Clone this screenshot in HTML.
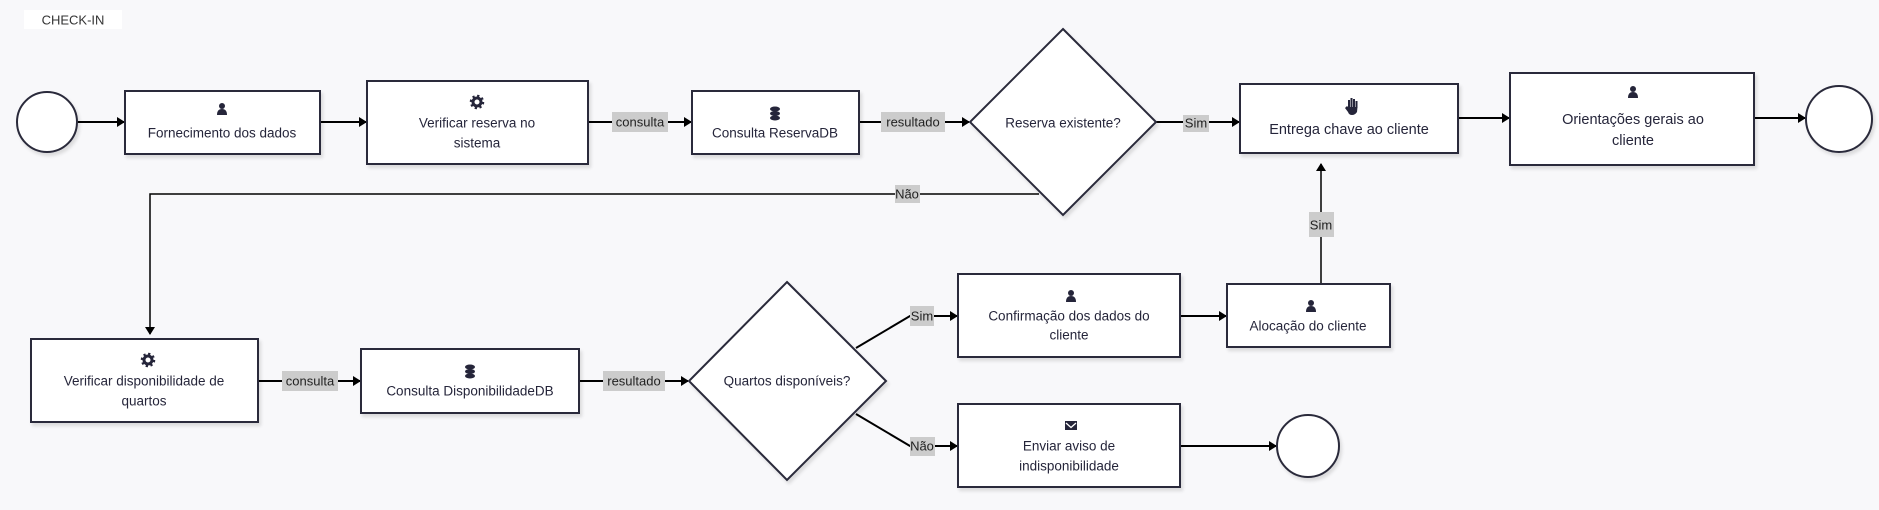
<!DOCTYPE html>
<html><head><meta charset="utf-8"><style>
html,body{margin:0;padding:0;background:#f8f8fa;}
svg{display:block;}
text{font-family:"Liberation Sans",sans-serif;font-size:13.5px;fill:#25253a;}
.lb{font-size:13px;fill:#222;}
</style></head><body>
<svg width="1879" height="510" viewBox="0 0 1879 510">
<defs>
<marker id="a" markerWidth="8" markerHeight="10" refX="7" refY="5" orient="auto" markerUnits="userSpaceOnUse"><path d="M0,0 L8,5 L0,10 z" fill="#000"/></marker>
<filter id="s" x="-5%" y="-5%" width="115%" height="120%"><feDropShadow dx="2" dy="3" stdDeviation="1.5" flood-color="#000" flood-opacity="0.12"/></filter>
<g id="person"><circle cx="0" cy="-4" r="3" fill="#25253a"/><path d="M-5,5 Q-5,-1 0,-1 Q5,-1 5,5 z" fill="#25253a"/></g>
<g id="gear"><circle cx="0" cy="0" r="4" fill="none" stroke="#25253a" stroke-width="3"/><circle cx="0" cy="0" r="6" fill="none" stroke="#25253a" stroke-width="2.5" stroke-dasharray="2.2 2.5"/></g>
<g id="db"><ellipse cx="0" cy="-4" rx="5" ry="2.5" fill="#25253a"/><ellipse cx="0" cy="0.5" rx="5" ry="2.5" fill="#25253a"/><ellipse cx="0" cy="5" rx="5" ry="2.5" fill="#25253a"/></g>
</defs>

<rect x="24" y="10" width="98" height="19" fill="#fff"/>
<text x="73" y="20" text-anchor="middle" dominant-baseline="central" style="font-size:13px;fill:#333">CHECK-IN</text>

<!-- connectors -->
<g stroke="#000" stroke-width="2" fill="none">
<line x1="78" y1="122" x2="124" y2="122" marker-end="url(#a)"/>
<line x1="320" y1="122" x2="366" y2="122" marker-end="url(#a)"/>
<line x1="588" y1="122" x2="691" y2="122" marker-end="url(#a)"/>
<line x1="859" y1="122" x2="969" y2="122" marker-end="url(#a)"/>
<line x1="1156" y1="122" x2="1239" y2="122" marker-end="url(#a)"/>
<line x1="1458" y1="118" x2="1509" y2="118" marker-end="url(#a)"/>
<line x1="1754" y1="118" x2="1805" y2="118" marker-end="url(#a)"/>
<line x1="258" y1="381" x2="360" y2="381" marker-end="url(#a)"/>
<line x1="579" y1="381" x2="688" y2="381" marker-end="url(#a)"/>
<polyline points="856,348 910,316 957,316" marker-end="url(#a)"/>
<polyline points="856,414 910,446 957,446" marker-end="url(#a)"/>
<line x1="1180" y1="316" x2="1226" y2="316" marker-end="url(#a)"/>
<line x1="1180" y1="446" x2="1276" y2="446" marker-end="url(#a)"/>
</g>
<g stroke="#000" stroke-width="1.5" fill="none">
<polyline points="1039,194 150,194 150,334" marker-end="url(#a)"/>
<line x1="1321" y1="284" x2="1321" y2="164" marker-end="url(#a)"/>
</g>

<!-- shapes -->
<g fill="#fff" stroke="#2a2a3a" stroke-width="2" filter="url(#s)">
<circle cx="47" cy="122" r="30"/>
<rect x="125" y="91" width="195" height="63"/>
<rect x="367" y="81" width="221" height="83"/>
<rect x="692" y="91" width="167" height="63"/>
<polygon points="1063,29 1156,122 1063,215 970,122"/>
<rect x="1240" y="84" width="218" height="69"/>
<rect x="1510" y="73" width="244" height="92"/>
<circle cx="1839" cy="119" r="33"/>
<rect x="31" y="339" width="227" height="83"/>
<rect x="361" y="349" width="218" height="64"/>
<polygon points="787,282 886,381 787,480 689,381"/>
<rect x="958" y="274" width="222" height="83"/>
<rect x="1227" y="284" width="163" height="63"/>
<rect x="958" y="404" width="222" height="83"/>
<circle cx="1308" cy="446" r="31"/>
</g>

<!-- edge labels -->
<g>
<rect x="612" y="112" width="56" height="20" fill="#ccc"/><text class="lb" x="640" y="122" text-anchor="middle" dominant-baseline="central">consulta</text>
<rect x="881" y="112" width="64" height="20" fill="#ccc"/><text class="lb" x="913" y="122" text-anchor="middle" dominant-baseline="central">resultado</text>
<rect x="1183" y="115" width="26" height="17" fill="#ccc"/><text class="lb" x="1196" y="123" text-anchor="middle" dominant-baseline="central">Sim</text>
<rect x="895" y="185" width="25" height="18" fill="#ccc"/><text class="lb" x="907" y="194" text-anchor="middle" dominant-baseline="central">Não</text>
<rect x="1309" y="212" width="25" height="25" fill="#ccc"/><text class="lb" x="1321" y="225" text-anchor="middle" dominant-baseline="central">Sim</text>
<rect x="282" y="371" width="56" height="20" fill="#ccc"/><text class="lb" x="310" y="381" text-anchor="middle" dominant-baseline="central">consulta</text>
<rect x="603" y="371" width="62" height="20" fill="#ccc"/><text class="lb" x="634" y="381" text-anchor="middle" dominant-baseline="central">resultado</text>
<rect x="910" y="306" width="24" height="20" fill="#ccc"/><text class="lb" x="922" y="316" text-anchor="middle" dominant-baseline="central">Sim</text>
<rect x="910" y="437" width="25" height="19" fill="#ccc"/><text class="lb" x="922" y="446" text-anchor="middle" dominant-baseline="central">Não</text>
</g>

<!-- icons -->
<use href="#person" x="222" y="110"/>
<use href="#gear" x="477" y="102"/>
<use href="#db" x="775" y="113"/>
<g transform="translate(1352,107)" fill="#25253a"><rect x="-4" y="-7" width="2" height="8"/><rect x="-1.5" y="-9" width="2" height="10"/><rect x="1" y="-8" width="2" height="9"/><rect x="3.5" y="-6" width="2" height="7"/><path d="M-4,0 L5.5,0 L5,5 Q3,8 0,8 Q-3,8 -4,5 L-7,1 L-5,-1 z"/></g>
<use href="#person" x="1633" y="93"/>
<use href="#gear" x="148" y="360"/>
<use href="#db" x="470" y="371"/>
<use href="#person" x="1071" y="297"/>
<use href="#person" x="1311" y="307"/>
<g transform="translate(1071,426)"><rect x="-6" y="-5" width="12" height="9" fill="#25253a"/><polyline points="-5,-3 0,1.5 5,-3" fill="none" stroke="#fff" stroke-width="1.3"/></g>

<!-- node text -->
<g text-anchor="middle" dominant-baseline="central">
<text x="222" y="133">Fornecimento dos dados</text>
<text x="477" y="123">Verificar reserva no</text><text x="477" y="143">sistema</text>
<text x="775" y="133">Consulta ReservaDB</text>
<text x="1063" y="123">Reserva existente?</text>
<text x="1349" y="130" style="font-size:14.5px">Entrega chave ao cliente</text>
<text x="1633" y="120" style="font-size:14.5px">Orientações gerais ao</text><text x="1633" y="141" style="font-size:14.5px">cliente</text>
<text x="144" y="381">Verificar disponibilidade de</text><text x="144" y="401">quartos</text>
<text x="470" y="391">Consulta DisponibilidadeDB</text>
<text x="787" y="381">Quartos disponíveis?</text>
<text x="1069" y="316">Confirmação dos dados do</text><text x="1069" y="335">cliente</text>
<text x="1308" y="326">Alocação do cliente</text>
<text x="1069" y="446">Enviar aviso de</text><text x="1069" y="466">indisponibilidade</text>
</g>
</svg>
</body></html>
